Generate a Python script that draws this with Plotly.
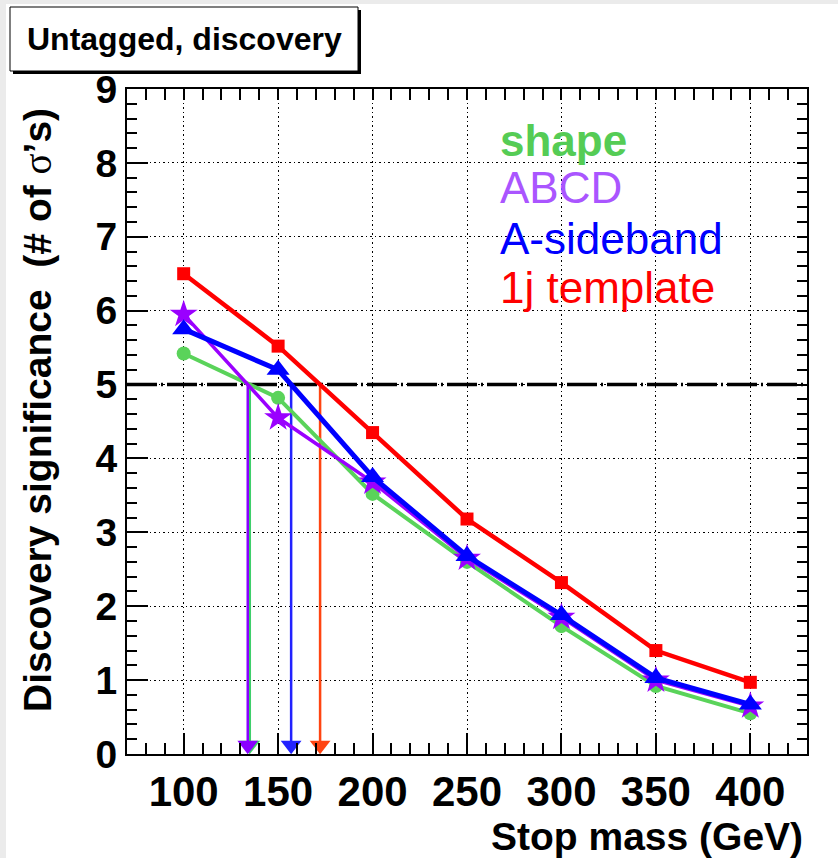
import numpy as np
import plotly.graph_objects as go

# ---------------- data ----------------
stop_mass = [100, 150, 200, 250, 300, 350, 400]
sig_shape = [5.42, 4.82, 3.52, 2.60, 1.73, 0.92, 0.55]
sig_abcd = [5.95, 4.55, 3.68, 2.65, 1.85, 1.00, 0.65]
sig_sideband = [5.75, 5.20, 3.75, 2.68, 1.88, 1.03, 0.67]
sig_1j = [6.50, 5.52, 4.35, 3.18, 2.32, 1.40, 0.97]
series_names = ["shape", "ABCD", "A-sideband", "1j template"]
threshold = 5.0
x_range = [70, 430]
y_range = [0, 9]

W, H = 838, 858
L, R, T, B = 127, 31, 89, 104
PW, PH = W - L - R, H - T - B
FONT = "Liberation Sans, Arial, Helvetica, sans-serif"


def px_x(px):
    return (px - L) / PW


def px_y(py):
    return (H - B - py) / PH


def crossing(xs, ys, level):
    for i in range(len(xs) - 1):
        y0, y1 = ys[i], ys[i + 1]
        if (y0 - level) * (y1 - level) <= 0 and y0 != y1:
            return xs[i] + (xs[i + 1] - xs[i]) * (y0 - level) / (y0 - y1)
    return None


fig = go.Figure()

# threshold dashed line
fig.add_trace(go.Scatter(x=x_range, y=[threshold, threshold], mode="lines",
                         line=dict(color="black", width=3.5, dash="30px,4px,2px,4px"),
                         hoverinfo="skip", showlegend=False))

styles = [
    (sig_shape, "#5ad35a", "circle", 14, 4, "#3ecf6a"),
    (sig_abcd, "#9a00ff", "star", 21, 3.5, "#8a00ff"),
    (sig_sideband, "#0000ff", "triangle-up", 20, 5, "#2222ff"),
    (sig_1j, "#ff0000", "square", 13, 4.5, "#ff4411"),
]

# arrows (vertical line from threshold crossing down to axis)
for ys, col, sym, ms, lw, acol in styles:
    xc = crossing(stop_mass, ys, threshold)
    fig.add_trace(go.Scatter(x=[xc, xc], y=[threshold, 0.15], mode="lines",
                             line=dict(color=acol, width=2.5),
                             hoverinfo="skip", showlegend=False, cliponaxis=False))
    fig.add_trace(go.Scatter(x=[xc], y=[0.12], mode="markers",
                             marker=dict(symbol="triangle-down", size=18, color=acol),
                             hoverinfo="skip", showlegend=False, cliponaxis=False))

for (ys, col, sym, ms, lw, acol), name in zip(styles, series_names):
    fig.add_trace(go.Scatter(x=stop_mass, y=ys, mode="lines+markers", name=name,
                             line=dict(color=col, width=lw),
                             marker=dict(symbol=sym, size=ms, color=col, line=dict(width=0)),
                             showlegend=False, cliponaxis=False))

# dummy trace for mirror axes
fig.add_trace(go.Scatter(x=[None], y=[None], xaxis="x2", yaxis="y2", showlegend=False))

grid_dash = "1.5px,3px"
fig.update_layout(
    width=W, height=H,
    margin=dict(l=L, r=R, t=T, b=B),
    paper_bgcolor="white", plot_bgcolor="white",
    showlegend=False,
    xaxis=dict(range=x_range, tick0=0, dtick=50, showgrid=True, gridcolor="black",
               gridwidth=1, griddash=grid_dash, ticks="inside", ticklen=21, tickwidth=1.5,
               tickcolor="black", showline=True, linecolor="black", linewidth=2,
               zeroline=False,
               tickfont=dict(family=FONT, size=42, color="black", weight="bold"),
               minor=dict(dtick=10, ticks="inside", ticklen=11, tickwidth=1.5,
                          tickcolor="black", showgrid=False)),
    yaxis=dict(range=y_range, dtick=1, showgrid=True, gridcolor="black",
               gridwidth=1, griddash=grid_dash, ticks="inside", ticklen=21, tickwidth=1.5,
               tickcolor="black", showline=True, linecolor="black", linewidth=2,
               zeroline=False,
               tickfont=dict(family=FONT, size=39, color="black", weight="bold"),
               minor=dict(dtick=0.2, ticks="inside", ticklen=10, tickwidth=1.5,
                          tickcolor="black", showgrid=False)),
    xaxis2=dict(range=x_range, overlaying="x", side="top", anchor="y", tick0=0, dtick=50,
                showticklabels=False, ticks="inside", ticklen=11, tickwidth=1.5,
                tickcolor="black", showgrid=False, showline=True, linecolor="black",
                linewidth=2, zeroline=False,
                minor=dict(dtick=10, ticks="inside", ticklen=11, tickwidth=1.5,
                           tickcolor="black", showgrid=False)),
    yaxis2=dict(range=y_range, overlaying="y", side="right", anchor="x", dtick=1,
                showticklabels=False, ticks="inside", ticklen=10, tickwidth=1.5,
                tickcolor="black", showgrid=False, showline=True, linecolor="black",
                linewidth=2, zeroline=False,
                minor=dict(dtick=0.2, ticks="inside", ticklen=10, tickwidth=1.5,
                           tickcolor="black", showgrid=False)),
)

shapes = []
# light gray page frame
shapes.append(dict(type="rect", xref="paper", yref="paper", x0=px_x(0), x1=px_x(W),
                   y0=px_y(4), y1=px_y(0), fillcolor="#ebebeb", line=dict(width=0), layer="below"))
shapes.append(dict(type="rect", xref="paper", yref="paper", x0=px_x(0), x1=px_x(6),
                   y0=px_y(H), y1=px_y(0), fillcolor="#ebebeb", line=dict(width=0), layer="below"))
# title box with shadow
shapes.append(dict(type="rect", xref="paper", yref="paper", x0=px_x(13), x1=px_x(361),
                   y0=px_y(74), y1=px_y(10), fillcolor="black", line=dict(width=0)))
shapes.append(dict(type="rect", xref="paper", yref="paper", x0=px_x(10), x1=px_x(358),
                   y0=px_y(71), y1=px_y(7), fillcolor="white", line=dict(color="black", width=1)))
fig.update_layout(shapes=shapes)

ann = []
ann.append(dict(text="<b>Untagged, discovery</b>", x=px_x(184), y=px_y(39), xref="paper",
                yref="paper", showarrow=False, xanchor="center", yanchor="middle",
                font=dict(family=FONT, size=32, color="black")))
ann.append(dict(text="<b>Discovery significance  (# of <span style=\"font-family:'Liberation Serif',serif;font-weight:normal\">σ</span>’s)</b>",
                x=px_x(37), y=px_y(410), xref="paper", yref="paper", showarrow=False,
                textangle=-90, xanchor="center", yanchor="middle",
                font=dict(family=FONT, size=39, color="black")))
ann.append(dict(text="<b>Stop mass (GeV)</b>", x=px_x(805), y=px_y(836), xref="paper",
                yref="paper", showarrow=False, xanchor="right", yanchor="middle",
                font=dict(family=FONT, size=39, color="black")))

legend_colors = ["#55cc55", "#aa55ff", "#0000ff", "#ff0000"]
legend_bold = [True, False, False, False]
legend_base = [155, 202, 253, 302]
for name, col, bold, base in zip(series_names, legend_colors, legend_bold, legend_base):
    txt = f"<b>{name}</b>" if bold else name
    ann.append(dict(text=txt, x=px_x(498), y=px_y(base - 15), xref="paper", yref="paper",
                    showarrow=False, xanchor="left", yanchor="middle",
                    font=dict(family=FONT, size=44, color=col)))
fig.update_layout(annotations=ann)

fig.write_html("out.html")
